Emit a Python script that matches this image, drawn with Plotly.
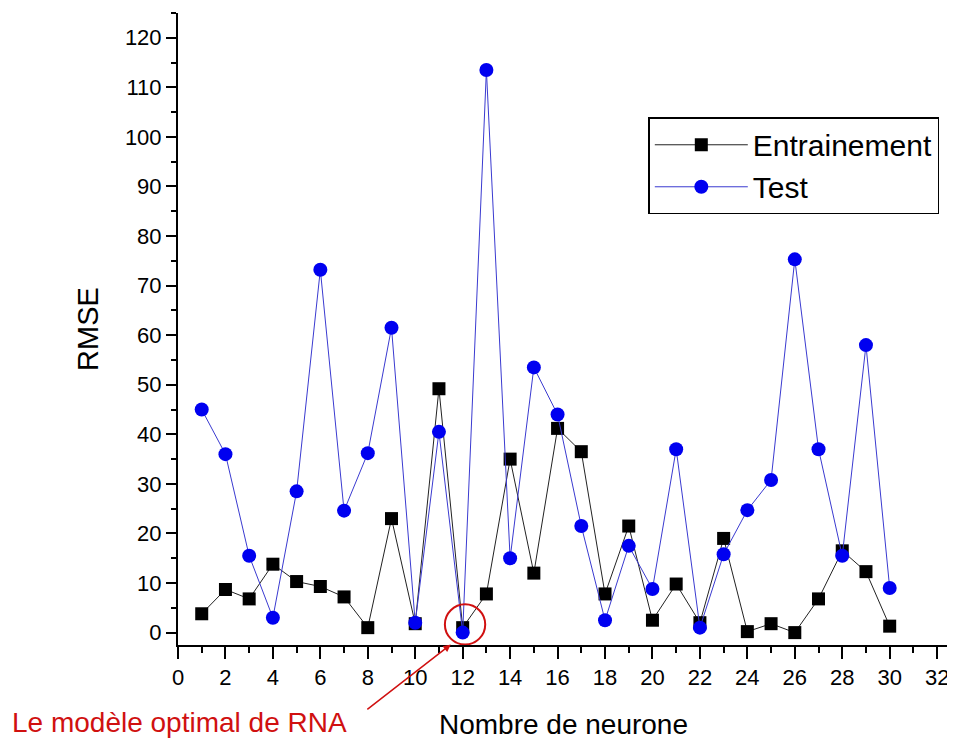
import plotly.graph_objects as go

neurones = list(range(1, 31))
entrainement = [3.8, 8.7, 6.8, 13.8, 10.3, 9.3, 7.2, 1.0, 23.0, 1.8,
                49.2, 1.0, 7.8, 35.0, 12.0, 41.2, 36.5, 7.8, 21.5, 2.5,
                9.8, 2.0, 19.0, 0.2, 1.8, 0.0, 6.8, 16.5, 12.3, 1.3]
test = [45.0, 36.0, 15.5, 3.0, 28.5, 73.2, 24.6, 36.2, 61.5, 2.0,
        40.5, 0.0, 113.5, 15.0, 53.5, 44.0, 21.5, 2.5, 17.5, 8.8,
        37.0, 1.0, 15.8, 24.7, 30.8, 75.3, 37.0, 15.5, 58.0, 9.0]

FONT = "Liberation Sans, Arial, sans-serif"

fig = go.Figure()
fig.add_trace(go.Scatter(
    x=neurones, y=entrainement, name="Entrainement", mode="lines+markers",
    line=dict(color="#222222", width=1),
    marker=dict(symbol="square", size=13, color="black"),
    cliponaxis=False,
))
fig.add_trace(go.Scatter(
    x=neurones, y=test, name="Test", mode="lines+markers",
    line=dict(color="#3a3ad0", width=1),
    marker=dict(symbol="circle", size=14, color="#0000f0"),
    cliponaxis=False,
))

# red circle around optimal model
fig.add_shape(type="circle", xref="x", yref="y",
              x0=11.25, x1=12.95, y0=-2.4, y1=5.7,
              line=dict(color="#d01010", width=2))

# arrow
fig.add_annotation(x=11.5, y=-2.4, xref="x", yref="y", text="",
                   showarrow=True, arrowhead=2, arrowsize=1, arrowwidth=1.5,
                   arrowcolor="#d01010", ax=-85, ay=66)
fig.add_annotation(x=-0.218, y=-0.122, xref="paper", yref="paper",
                   xanchor="left", yanchor="middle", showarrow=False,
                   text="Le modèle optimal de RNA",
                   font=dict(family=FONT, size=28, color="#d01010"))

fig.update_layout(
    width=947, height=732,
    margin=dict(l=170, r=6, t=5, b=95),
    paper_bgcolor="white", plot_bgcolor="white",
    font=dict(family=FONT, size=22, color="black"),
    showlegend=True,
    legend=dict(x=0.61, y=0.835, xanchor="left", yanchor="top",
                bgcolor="white", bordercolor="black", borderwidth=1.5,
                font=dict(family=FONT, size=30, color="black"),
                itemwidth=93, tracegroupgap=0),
    xaxis=dict(
        range=[0, 32.5], tickmode="linear", tick0=0, dtick=2,
        showline=True, linecolor="black", linewidth=2,
        ticks="outside", ticklen=12, tickwidth=2, tickcolor="black",
        minor=dict(dtick=1, tick0=0, ticks="outside", ticklen=6,
                   tickwidth=2, tickcolor="black", showgrid=False),
        showgrid=False, zeroline=False, automargin=False,
        tickfont=dict(family=FONT, size=22),
        title=dict(text="Nombre de neurone", standoff=27,
                   font=dict(family=FONT, size=28)),
    ),
    yaxis=dict(
        range=[-2.5, 125], tickmode="linear", tick0=0, dtick=10,
        showline=True, linecolor="black", linewidth=2,
        ticks="outside", ticklen=10, tickwidth=2, tickcolor="black",
        minor=dict(dtick=5, tick0=0, ticks="outside", ticklen=5,
                   tickwidth=2, tickcolor="black", showgrid=False),
        showgrid=False, zeroline=False, automargin=False,
        tickfont=dict(family=FONT, size=22),
        title=dict(text="RMSE", standoff=18,
                   font=dict(family=FONT, size=29)),
    ),
)

fig.write_html("out.html")
